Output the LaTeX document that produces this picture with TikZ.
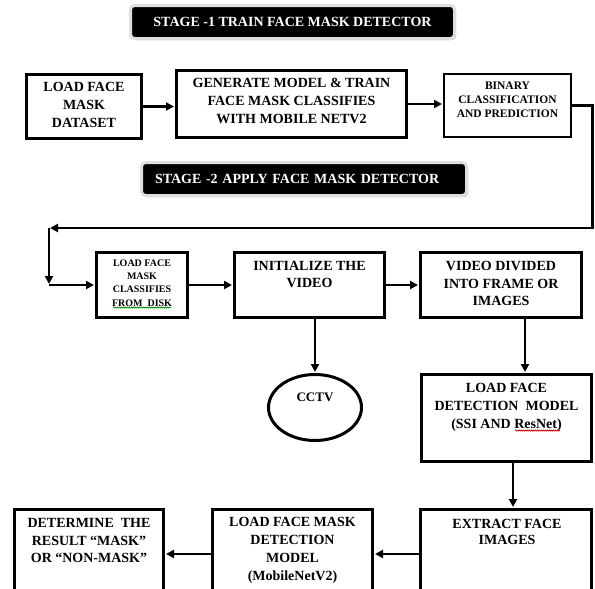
\documentclass[tikz,border=0pt]{standalone}
\usepackage{fontspec}
\setmainfont{Liberation Serif}
\usetikzlibrary{arrows.meta,shadows,shapes.geometric,decorations.pathmorphing}

\begin{document}
\begin{tikzpicture}[x=1pt,y=-1pt,
  box/.style={draw=black, line width=3pt, fill=white, inner sep=0pt},
  lbl/.style={font=\bfseries\fontsize{14}{18}\selectfont, align=center, inner sep=0pt},
  banner/.style={fill=black, draw=gray!25, line width=3pt, rounded corners=4pt,
    text=white, font=\bfseries\fontsize{14}{17}\selectfont,
    minimum height=33pt, inner ysep=0pt,
    drop shadow={shadow xshift=1.5pt, shadow yshift=-1.5pt, fill=gray!60, opacity=1}},
  arr/.style={line width=2.6pt, -{Triangle[length=8pt,width=8pt]}, shorten >=1pt},
  squiggle/.style={line width=0.6pt, decorate,
    decoration={snake, amplitude=0.6pt, segment length=2pt}}
]
\clip (0,0) rectangle (595,589);
\fill[white] (0,0) rectangle (595,589);

% ---- stage banners ----
\node[banner, minimum width=324pt, inner xsep=0pt] (s1) at (292.5,22)
  {STAGE -1 TRAIN FACE MASK DETECTOR};
\node[banner, text width=298pt, inner xsep=13.5pt, align=left] (s2) at (304,179)
  {STAGE -2 APPLY FACE MASK DETECTOR};

% ---- stage 1 boxes ----
\node[box, minimum width=115pt, minimum height=64pt] (b1) at (84,106.5) {};
\node[box, minimum width=230pt, minimum height=67pt] (b2) at (291.5,104) {};
\node[box, line width=2pt, minimum width=127pt, minimum height=63pt] (b3) at (507.5,105.5) {};

% ---- stage 2 boxes ----
\node[box, minimum width=91pt, minimum height=65pt] (b4) at (142,285) {};
\node[box, minimum width=150pt, minimum height=65pt] (b5) at (309.5,285) {};
\node[box, minimum width=161pt, minimum height=65pt] (b6) at (501,285) {};
\node[box, ellipse, minimum width=93pt, minimum height=66pt] (cctv) at (315,407.5) {};
\node[box, minimum width=170pt, minimum height=87pt] (b7) at (506.5,418) {};
\node[box, minimum width=171pt, minimum height=89pt] (b8) at (506,554) {};
\node[box, minimum width=160pt, minimum height=89pt] (b9) at (292.5,554) {};
\node[box, minimum width=149pt, minimum height=89pt] (b10) at (89,554) {};

% ---- box texts ----
\node[lbl] (t1) at (84,105) {LOAD FACE\\MASK\\DATASET};
\node[lbl] (t2) at (291.5,101) {GENERATE MODEL \& TRAIN\\FACE MASK CLASSIFIES\\WITH MOBILE NETV2};
\node[lbl, font=\bfseries\fontsize{11.5}{14}\selectfont] (t3) at (507.5,100)
  {BINARY\\CLASSIFICATION\\AND PREDICTION};
\node[lbl, font=\bfseries\fontsize{10}{13.3}\selectfont] (t4) at (142,283)
  {LOAD FACE\\MASK\\CLASSIFIES\\FROM\ \ DISK};
\node[lbl, font=\bfseries\fontsize{14}{17.5}\selectfont] (t5) at (309.5,274.5) {INITIALIZE THE\\VIDEO};
\node[lbl, font=\bfseries\fontsize{14}{17.5}\selectfont] (t6) at (501,283.5) {VIDEO DIVIDED\\INTO FRAME OR\\IMAGES};
\node[lbl, font=\bfseries\fontsize{13}{16}\selectfont] (tc) at (315,397) {CCTV};
\node[lbl] (t7) at (506.5,407) {LOAD FACE\\DETECTION\ \ MODEL\\(SSI AND ResNet)};
\node[lbl, font=\bfseries\fontsize{14}{16.5}\selectfont] (t8) at (507,532) {EXTRACT FACE\\IMAGES};
\node[lbl] (t9) at (292.5,550) {LOAD FACE MASK\\DETECTION\\MODEL\\(MobileNetV2)};
\node[lbl, font=\bfseries\fontsize{14}{17.5}\selectfont] (t10) at (89,540.5)
  {DETERMINE\ \ THE\\RESULT “MASK”\\OR “NON-MASK”};

% spell-check squiggles under two words
\draw[squiggle, green!55!black] (113,307.5) -- (171,307.5);
\draw[squiggle, red!80!black] (515,430.5) -- (560,430.5);

% ---- connectors ----
\coordinate (r1) at (592.5,228);
\coordinate (l1) at (49,228);
\coordinate (l2) at (49,285);

\draw[arr] (b1.east) -- (b1.east -| b2.west);
\draw[arr] (b2.east) -- (b2.east -| b3.west);
\draw[arr] (b3.east) -| (r1) -- (l1);
\draw[arr] (l1) -- (l2);
\draw[arr] (l2) -- (b4.west);
\draw[arr] (b4.east) -- (b4.east -| b5.west);
\draw[arr] (b5.east) -- (b5.east -| b6.west);
\draw[arr] (cctv.north |- b5.south) -- (cctv.north);
\draw[arr] ([xshift=24pt]b6.south) -- ([xshift=24pt]b6.south |- b7.north);
\draw[arr] ([xshift=6.5pt]b7.south) -- ([xshift=6.5pt]b7.south |- b8.north);
\draw[arr] (b8.west) -- (b8.west -| b9.east);
\draw[arr] (b9.west) -- (b9.west -| b10.east);
\end{tikzpicture}
\end{document}
